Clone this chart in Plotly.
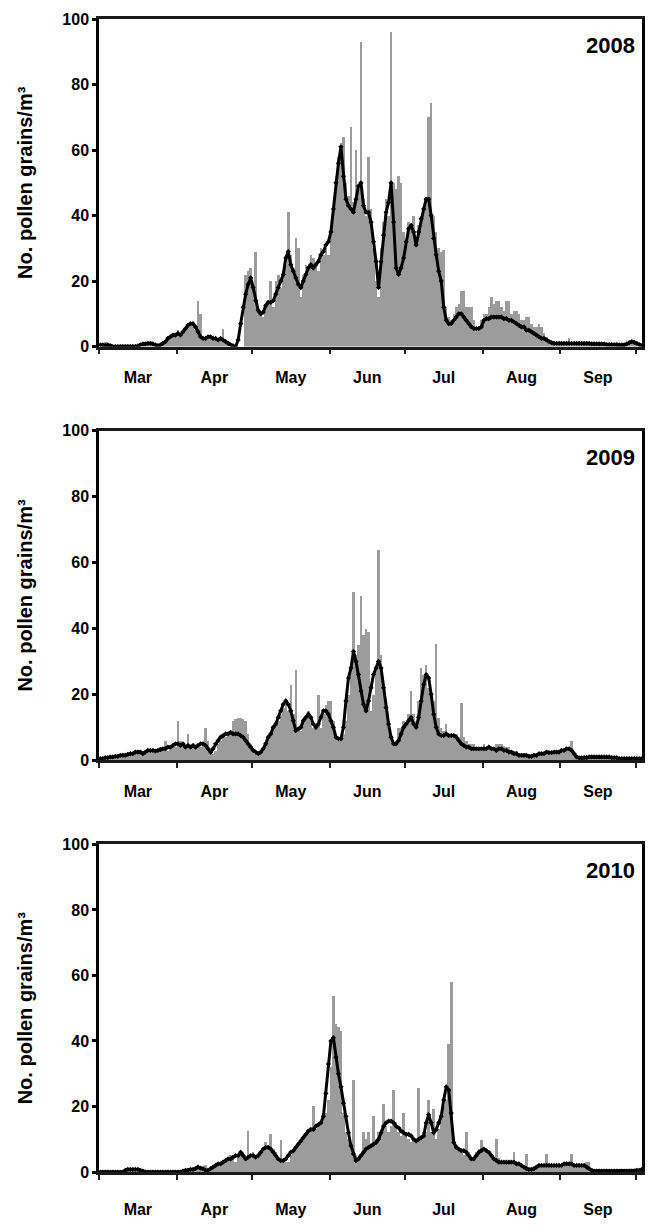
import plotly.graph_objects as go
import pandas as pd

years = [2008, 2009, 2010]
year_labels = ["2008", "2009", "2010"]
y_title = "No. pollen grains/m³"
y_ticks = [0, 20, 40, 60, 80, 100]

# daily pollen counts (bars), 1 March -> 2 October
pollen_2008 = [
    0, 1, 1.5, 1, 0, 0, 0, 0, 0, 0,
    0, 0, 0, 0, 0, 0, 0, 1, 1, 1.5,
    1, 1, 0.5, 0, 0.5, 1, 2, 3, 3, 4,
    4, 5, 3, 5, 6, 7, 7, 6.5, 5, 14,
    10, 3, 3, 3, 3, 2, 2, 2, 3, 5.5,
    1, 0.5, 0, 0, 0, 0, 0, 0, 22, 23,
    24, 18, 29, 12, 10, 9, 13, 14, 20, 12,
    20, 22, 18, 23, 25, 41, 28, 24, 33, 30,
    15, 22, 25, 24, 28, 27, 25, 23, 30, 28,
    30, 28, 34, 42, 52, 58, 62, 64, 50, 46,
    67, 44, 60, 48, 93, 45, 40, 58, 42, 30,
    20, 15, 30, 38, 45, 40, 96, 50, 48, 52,
    50, 35, 30, 38, 37, 40, 33, 37, 40, 42,
    45, 70, 74.5, 40, 35, 30, 29, 29.5, 12, 9,
    8, 10, 12, 13, 17, 17, 12, 12, 12, 8,
    6, 6, 8, 10, 10, 12, 15, 13, 14, 14,
    12, 11, 14, 14, 10, 11, 11, 10, 8, 8,
    9, 9, 7, 6, 6, 7, 6, 4, 3, 2,
    1, 1, 1, 1, 1, 1, 1.5, 2.5, 1.5, 1,
    1, 1, 1, 1, 1, 1, 1, 1, 1, 1,
    1, 0.5, 0.5, 0.5, 1, 1, 0.5, 0.5, 0.5, 0.5,
    1, 1.5, 1.5, 1.5, 1, 0.5, 0.5,
]
mean_2008 = [
    0.5, 0.5, 0.3, 0.5, 0.3, 0, 0, 0, 0, 0,
    0, 0, 0, 0, 0, 0.2, 0.5, 0.8, 0.8, 1,
    1, 0.8, 0.5, 0.3, 0.5, 1, 1.5, 2.5, 3, 3.5,
    3.5, 4, 3.5, 4.5, 5.5, 6.5, 7, 7, 6, 4.5,
    3, 2.5, 2.5, 3, 3, 2.5, 2.5, 2, 2.5, 2,
    1.5, 1, 0.5, 0.2, 0, 2, 7, 12, 16, 19,
    21, 18, 14, 11, 10, 10.5, 12.5, 13.5, 13.5, 14,
    16, 18, 20, 22, 27, 29, 25, 23, 21, 19,
    18, 20, 22, 24, 25, 24, 25, 26, 28, 29,
    31, 32, 35, 42, 50, 56, 61, 52, 45, 43,
    42, 41, 45, 49, 50, 43, 41, 41, 38, 32,
    26, 18, 26, 34, 41, 44, 50, 38, 24, 22,
    24, 27, 32, 36, 37, 35, 31, 35, 39, 42,
    45, 45, 40, 33, 28, 23, 20, 12, 8, 7,
    7, 8, 9, 10, 10, 9, 8, 7, 6, 5.5,
    5.5, 5.5, 6, 8, 8.5, 8.5, 9, 9, 9, 9,
    9, 8.5, 8.5, 8, 8, 7.5, 7, 6.5, 6, 6,
    5, 5, 4.5, 4, 3.5, 3, 2.5, 2.5, 2, 1.5,
    1.2, 1, 1, 1, 1, 1, 1, 1, 1, 1,
    1, 1, 1, 1, 1, 1, 0.8, 0.8, 0.8, 0.8,
    0.8, 0.8, 0.6, 0.6, 0.6, 0.6, 0.6, 0.5, 0.5, 0.5,
    0.8, 1.2, 1.5, 1.3, 1, 0.6, 0.3,
]
pollen_2009 = [
    0.5, 0.5, 0.5, 1, 1, 1, 1, 1.5, 1.5, 1.5,
    1.5, 2, 2, 2, 3, 2.5, 2.5, 2, 2.5, 3,
    3, 3, 3, 3, 4, 4, 6, 3, 4, 5,
    4, 12, 6, 5, 4, 8, 4, 4, 4, 4,
    4, 5, 10, 6, 2, 2, 3, 5, 6, 7,
    7, 8, 8, 12, 12.5, 13, 13, 12.5, 12, 8,
    5, 3, 2, 1.5, 2, 3, 5, 7, 8, 10,
    11, 12, 14, 16, 17, 15, 23, 14, 27.5, 10,
    9, 12, 13, 15, 12, 10, 11, 20, 10, 14,
    17, 18, 18, 12, 8, 6, 6, 8, 12, 20,
    28, 51, 32, 35, 50, 38, 40, 39, 15, 20,
    28, 64, 32, 22, 15, 12, 8, 5, 6, 10,
    10, 12, 11, 14, 21, 14, 12, 18, 28, 26,
    29, 22, 20, 18, 35.5, 13, 10, 9, 11, 8,
    8, 7, 8, 7, 17.5, 7, 6, 5, 5, 5,
    4, 4, 4, 5, 4, 4, 4, 4, 5, 5,
    5, 4.5, 4, 4, 3, 3, 3, 2, 2, 1.5,
    1.5, 1.5, 1, 1.5, 1.5, 2, 2, 2, 2.5, 2.5,
    2.5, 3, 3, 3, 3, 3, 3.5, 3.5, 6, 2,
    1, 1, 1, 1, 1, 1, 1.5, 1.5, 1, 1,
    1, 1, 1, 1, 1, 1, 1, 0.5, 0.5, 0.5,
    0.5, 0.5, 0.5, 0.5, 0.5, 0.5, 0.5,
]
mean_2009 = [
    0.5, 0.5, 0.8, 0.8, 1, 1, 1.2, 1.2, 1.5, 1.5,
    1.5, 1.8, 2, 2, 2.5, 2.5, 2.5, 2, 2.5, 3,
    3, 3, 2.8, 3, 3.2, 3.5, 3.5, 4, 4, 4.5,
    5, 5, 4.5, 5, 4, 4.5, 4, 4.5, 4, 4.5,
    5, 5, 4.5, 3.5, 2.5, 3.5, 5, 6, 7, 7.5,
    8, 8, 8.5, 8, 8, 8, 7.5, 7, 6, 5,
    4, 3, 2.5, 2, 2.5, 3.5, 5, 7, 8, 10,
    11, 13, 15, 17, 18, 17, 15, 12, 9, 9.5,
    10, 12, 13, 14, 13, 11, 10, 11, 13, 15,
    15, 14, 12, 10, 7, 6.5, 6.5, 10, 18, 25,
    28, 33, 30, 26, 21, 17, 15, 18, 22, 26,
    28, 30, 28, 22, 16, 11, 7, 5, 5, 6,
    8, 10, 11, 12, 13, 11, 10, 13, 18, 23,
    26, 25, 20, 14, 10, 8, 7.5, 7.5, 8, 7.5,
    7.5, 7.5, 7, 6, 5, 4.5, 4, 4, 3.5, 3.5,
    3.5, 3.5, 3.5, 3.5, 3.5, 4, 3.5, 3.5, 3, 3.5,
    3.5, 3, 3, 2.5, 2.5, 2, 2, 1.5, 1.5, 1.5,
    1.5, 1.2, 1.2, 1.5, 1.5, 2, 2, 2, 2.5, 2.3,
    2.3, 2.5, 2.5, 2.5, 3, 3, 3.5, 3.5, 3, 2,
    1, 0.7, 0.7, 0.8, 0.8, 1, 1, 1, 1, 1,
    1, 1, 1, 1, 0.8, 0.8, 0.8, 0.5, 0.5, 0.5,
    0.5, 0.5, 0.5, 0.5, 0.5, 0.5, 0.5,
]
pollen_2010 = [
    0, 0, 0, 0, 0, 0, 0, 0, 0, 0,
    0.5, 1, 1, 0.5, 1, 0.5, 0.5, 0, 0, 0,
    0, 0, 0, 0, 0, 0, 0, 0, 0, 0,
    0, 0, 0, 0.5, 0.5, 0.5, 1, 0.5, 1, 2,
    1, 1, 2, 1, 1, 2, 2, 3, 2, 3.5,
    3, 4, 5, 5, 3, 4, 5, 6, 4, 12.5,
    4, 6, 4, 5, 6, 6, 9, 8, 11.5, 7,
    6, 4, 9.5, 3, 3, 3, 5, 6, 7, 9,
    10, 11, 12, 12, 13, 20, 13, 14, 15, 18,
    18, 22, 32, 53.5, 45, 44, 43, 18, 12, 10,
    8, 28, 5, 4, 5, 12, 10, 12, 8, 17,
    10, 12, 13, 20.5, 14, 12, 14, 25, 15, 12,
    11, 18, 12, 10, 9, 10, 10, 25.5, 10, 12,
    12, 22, 12, 19, 10, 13, 17, 20, 22, 39,
    58, 8, 8, 7, 6, 5, 12, 6, 4, 4,
    6, 7, 9.5, 6, 6, 5, 5, 4, 10, 4,
    3, 3, 3, 3, 3, 6, 3, 2, 2, 2,
    5.5, 1, 1, 1, 1.5, 2, 2, 2, 5.5, 2,
    2, 2, 2, 2, 2, 2, 2.5, 2.5, 5.5, 2,
    2, 2, 2, 2, 3, 3, 1, 0.5, 0.5, 0.5,
    0.5, 0.5, 0.5, 0.5, 0.5, 0.5, 0.5, 0.5, 0.5, 0.5,
    0.5, 0.5, 0.5, 0.5, 0.5, 0.5, 1,
]
mean_2010 = [
    0, 0, 0, 0, 0, 0, 0, 0, 0, 0,
    0.5, 0.8, 0.8, 0.8, 0.8, 0.8, 0.5, 0.3, 0, 0,
    0, 0, 0, 0, 0, 0, 0, 0, 0, 0,
    0, 0, 0, 0.3, 0.5, 0.5, 0.8, 0.8, 1, 1.5,
    1.2, 1, 0.5, 0.5, 1, 1.5, 2, 2.5, 2.5, 3,
    3.5, 4, 4, 4.5, 5, 5, 6, 5, 4, 4.5,
    5, 5, 4.5, 5, 6, 7, 7.5, 7.5, 7, 6,
    5, 4, 3.5, 3.5, 4, 5, 6, 6.5, 7.5, 8.5,
    9.5, 10.5, 11.5, 12.5, 13, 13, 14, 14.5, 15, 17,
    24, 33, 40, 41, 35, 30, 26, 21, 17, 12,
    8, 5.5, 3.5, 4, 5, 6, 7, 7.5, 8, 8.5,
    9, 10, 12, 14, 15, 15.5, 15.5, 15, 14, 13.5,
    12.5, 12, 11.5, 11.5, 11, 10, 9.5, 10, 10.5, 11,
    15, 17.5, 15, 12, 13, 15, 17, 22, 26, 25,
    18, 9, 7.5, 7, 6.5, 6.5, 6, 5, 4, 4,
    5, 6, 6.5, 7, 6.5, 6, 5, 4, 3.5, 3,
    3, 3, 3, 3, 3, 3, 2.5, 2.5, 2, 1.5,
    1, 0.8, 0.8, 1, 1.5, 2, 2, 2, 2, 2,
    2, 2, 2, 2, 2, 2.5, 2.5, 2.5, 2.5, 2,
    2, 2, 2, 2, 1.5, 1, 0.5, 0.3, 0.3, 0.3,
    0.3, 0.3, 0.3, 0.3, 0.3, 0.3, 0.3, 0.3, 0.3, 0.3,
    0.3, 0.3, 0.3, 0.3, 0.5, 0.5, 0.8,
]

bars = [pollen_2008, pollen_2009, pollen_2010]
means = [mean_2008, mean_2009, mean_2010]
for b, m in zip(bars, means):
    assert len(b) == 217 and len(m) == 217

BAR_COLOR = "#9c9c9c"
FONT = "Liberation Sans, Arial, sans-serif"
NARROW = "Liberation Sans Narrow, Arial Narrow, Liberation Sans, sans-serif"

# plot-area geometry (paper fractions)
domains = [[0.7159, 1.0], [0.3571, 0.6429], [0.0, 0.2841]]
standoffs = [9, 10, 16]

fig = go.Figure()
for i, yr in enumerate(years):
    days = pd.date_range(f"{yr}-03-01 12:00", periods=217, freq="D")
    xa = "x" if i == 0 else f"x{i+1}"
    ya = "y" if i == 0 else f"y{i+1}"
    fig.add_trace(go.Bar(
        x=days, y=bars[i], xaxis=xa, yaxis=ya,
        marker=dict(color=BAR_COLOR, line=dict(width=0)),
        showlegend=False, hoverinfo="x+y",
    ))
    fig.add_trace(go.Scatter(
        x=days, y=means[i], xaxis=xa, yaxis=ya, mode="lines+markers",
        line=dict(color="black", width=3),
        marker=dict(color="black", size=4, symbol="diamond"),
        showlegend=False, hoverinfo="x+y",
    ))
    suffix = "" if i == 0 else str(i + 1)
    fig.layout["xaxis" + suffix] = dict(
        type="date", anchor=ya,
        range=[f"{yr}-03-01", f"{yr}-10-03 14:00"],
        tick0=f"{yr}-03-01", dtick="M1", tickformat="%b",
        ticklabelmode="period", ticks="outside", ticklen=5, tickwidth=2,
        tickcolor="#222", showline=True, linewidth=2.5, linecolor="#1a1a1a",
        mirror=True, showgrid=False, zeroline=False,
        ticklabelstandoff=standoffs[i],
        tickfont=dict(family=NARROW, size=16, color="black", weight="bold"),
    )
    fig.layout["yaxis" + suffix] = dict(
        domain=domains[i], anchor=xa, range=[0, 100],
        tickvals=y_ticks, ticks="outside", ticklen=4, tickwidth=2.5,
        tickcolor="black", showline=True, linewidth=2.5, linecolor="black",
        mirror=True, showgrid=False, zeroline=False,
        tickfont=dict(family=FONT, size=16, color="black", weight="bold"),
        title=dict(text=y_title, standoff=25,
                   font=dict(family=FONT, size=20, color="black", weight="bold")),
    )
    fig.add_annotation(
        text=year_labels[i], xref=f"{xa} domain", yref=f"{ya} domain",
        x=0.99, y=0.92, xanchor="right", yanchor="middle", showarrow=False,
        font=dict(family=NARROW, size=22, color="black", weight="bold"),
    )

fig.update_layout(
    width=656, height=1229,
    margin=dict(l=99, r=11, t=16, b=48),
    paper_bgcolor="white", plot_bgcolor="white",
    bargap=0, barmode="overlay",
)

fig.write_html("out.html")
